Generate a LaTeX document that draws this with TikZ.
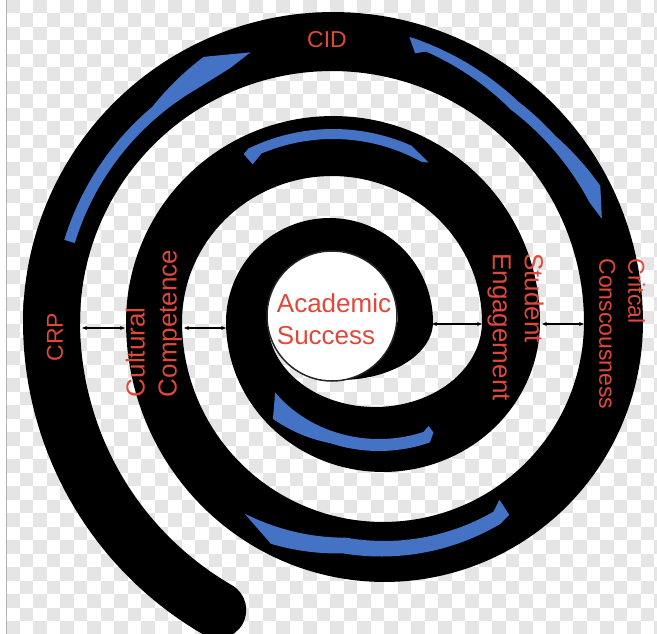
\documentclass[tikz,border=0pt]{standalone}
\usepackage{fontspec}
\setmainfont{Liberation Sans}
\usetikzlibrary{arrows.meta}
\definecolor{blu}{RGB}{68,114,196}
\definecolor{lbl}{RGB}{224,72,58}
\definecolor{chk}{RGB}{229,229,229}
\tikzset{
  lab/.style={text=lbl, inner sep=0pt, align=left},
  big/.style={font=\fontsize{26}{32}\selectfont},
  mid/.style={font=\fontsize{23}{29}\selectfont},
  link/.style={{Stealth[length=5pt,width=4pt]}-{Stealth[length=5pt,width=4pt]}, line width=1.1pt, black},
}
\begin{document}
\begin{tikzpicture}[x=1pt,y=-1pt]
\useasboundingbox (0,0) rectangle (657,634);
% background checkerboard
\begin{scope}
\clip (0,0) rectangle (657,634);
\fill[white] (0,0) rectangle (657,634);
\foreach \i in {0,...,48} {
  \pgfmathsetmacro\off{mod(\i,2)}
  \foreach \j in {0,2,...,46} {
    \fill[chk] ({6+\i*13.5},{(\j+\off)*13.5}) rectangle +(13.5,13.5);
  }
}
\fill[white] (0,0) rectangle (6,634);
\draw[black!30, line width=1] (6,0) -- (6,634);
\end{scope}
% tail of the spiral
\draw[black, line width=57, line cap=round]
  plot[domain=120:183, samples=40, variable=\t] ({384+332.5*cos(\t)},{322+332.5*sin(\t)});
% spiral body
\fill[black]
  plot[domain=180:360, samples=90, variable=\t] ({333+310*cos(\t)},{322+310*sin(\t)})
  -- plot[domain=0:180, samples=90, variable=\t] ({384.5+258.5*cos(\t)},{322+260*sin(\t)})
  -- plot[domain=180:360, samples=80, variable=\t] ({333+207*cos(\t)},{322+206*sin(\t)})
  -- plot[domain=0:180, samples=70, variable=\t] ({383+157*cos(\t)},{322+150*sin(\t)})
  -- plot[domain=180:360, samples=60, variable=\t] ({329.5+103.5*cos(\t)},{322+104*sin(\t)})
  -- plot[domain=0:100, samples=40, variable=\t] ({340+93*cos(\t)},{322+58*sin(\t)})
  -- (333,316)
  -- plot[domain=360:180, samples=50, variable=\t] ({333+65*cos(\t)},{322+65*sin(\t)})
  -- plot[domain=180:0, samples=60, variable=\t] ({375+107*cos(\t)},{322+85*sin(\t)})
  -- plot[domain=360:180, samples=70, variable=\t] ({332+150*cos(\t)},{322+146*sin(\t)})
  -- plot[domain=180:0, samples=80, variable=\t] ({383+201*cos(\t)},{322+200*sin(\t)})
  -- plot[domain=360:180, samples=90, variable=\t] ({332+252*cos(\t)},{322+251*sin(\t)})
  -- cycle;
% blue highlights
% outer top-left
\fill[blu]
  plot[domain=197:230, samples=30, variable=\t] ({333+281*cos(\t)},{322+281*sin(\t)})
  -- plot[domain=230:244, samples=15, variable=\t] ({333+(281+14*(\t-230)/14)*cos(\t)},{322+(281+14*(\t-230)/14)*sin(\t)})
  -- ({333+282*cos(253)},{322+282*sin(253)})
  -- ({333+274*cos(248)},{322+274*sin(248)})
  -- plot[domain=240:197, samples=30, variable=\t] ({333+270*cos(\t)},{322+270*sin(\t)})
  -- cycle;
% outer top-right
\fill[blu]
  ({333+295*cos(285)},{322+295*sin(285)})
  -- plot[domain=286:310, samples=20, variable=\t] ({333+(295-7*(\t-286)/24)*cos(\t)},{322+(295-7*(\t-286)/24)*sin(\t)})
  -- plot[domain=310:320, samples=10, variable=\t] ({333+(288+2*(\t-310)/10)*cos(\t)},{322+(288+2*(\t-310)/10)*sin(\t)})
  -- plot[domain=320:333, samples=12, variable=\t] ({333+(290+10*(\t-320)/13)*cos(\t)},{322+(290+10*(\t-320)/13)*sin(\t)})
  -- ({333+288*cos(339)},{322+288*sin(339)})
  -- plot[domain=335:310, samples=20, variable=\t] ({333+(277+6*(\t-310)/25)*cos(\t)},{322+(277+6*(\t-310)/25)*sin(\t)})
  -- plot[domain=310:289, samples=20, variable=\t] ({333+(286-9*(\t-289)/21)*cos(\t)},{322+(286-9*(\t-289)/21)*sin(\t)})
  -- ({333+281*cos(287)},{322+281*sin(287)})
  -- cycle;
% second ring top
\fill[blu]
  ({333+190*cos(242)},{322+190*sin(242)})
  -- plot[domain=244:294, samples=40, variable=\t] ({333+193*cos(\t)},{322+193*sin(\t)})
  -- ({333+186*cos(301)},{322+186*sin(301)})
  -- plot[domain=299:247, samples=40, variable=\t] ({333+183*cos(\t)},{322+183*sin(\t)})
  -- ({333+177*cos(243)},{322+177*sin(243)})
  -- cycle;
% inner bottom
\fill[blu]
  plot[domain=135:110, samples=20, variable=\t] ({379+(142+8*(\t-110)/25)*cos(\t)},{322+(129+8*(\t-110)/25)*sin(\t)})
  -- plot[domain=110:69, samples=30, variable=\t] ({379+142*cos(\t)},{322+129*sin(\t)})
  -- ({379+134*cos(66)},{322+121*sin(66)})
  -- ({379+127*cos(67)},{322+113*sin(67)})
  -- plot[domain=70:143, samples=50, variable=\t] ({379+130*cos(\t)},{322+117*sin(\t)})
  -- cycle;
% outer bottom
\fill[blu]
  plot[domain=117:100, samples=15, variable=\t] ({384+(235+14*(\t-100)/17)*cos(\t)},{322+(235+14*(\t-100)/17)*sin(\t)})
  -- plot[domain=100:60, samples=30, variable=\t] ({384+(233+2*(\t-60)/40)*cos(\t)},{322+(233+2*(\t-60)/40)*sin(\t)})
  -- ({384+230*cos(57)},{322+230*sin(57)})
  -- ({384+212*cos(57)},{322+212*sin(57)})
  -- plot[domain=60:100, samples=30, variable=\t] ({384+219*cos(\t)},{322+219*sin(\t)})
  -- plot[domain=100:126, samples=20, variable=\t] ({384+(219+18*(\t-100)/26)*cos(\t)},{322+(219+18*(\t-100)/26)*sin(\t)})
  -- cycle;
% centre circle
\node[circle, draw=black!85, line width=1.5, fill=white, minimum size=130, inner sep=0pt] (circ) at (332,316) {};
\node[lab, big] (acad) at (334,319) {Academic\\Success};
% labels
\node[lab, mid] (cid) at (327,40) {CID};
\node[lab, mid, rotate=90] (crp) at (55,337) {CRP};
\node[lab, big, rotate=90] (cult) at (154,323.5) {Cultural\\Competence};
\node[lab, big, rotate=-90] (stud) at (515.5,327) {Student\\Engagement};
\node[lab, mid, rotate=-90] (crit) at (622,334) {Critcal\\Conscousness};
% connectors
\coordinate (crpR) at (82,328);
\coordinate (ccL) at (125,328);
\coordinate (ccR) at (184,328);
\coordinate (inL) at (226,328);
\coordinate (inR) at (432,324);
\coordinate (seL) at (482,324);
\coordinate (seR) at (542,324);
\coordinate (crL) at (584,324);
\draw[link] (crpR) -- (ccL);
\draw[link] (ccR) -- (inL);
\draw[link] (inR) -- (seL);
\draw[link] (seR) -- (crL);
\end{tikzpicture}
\end{document}
